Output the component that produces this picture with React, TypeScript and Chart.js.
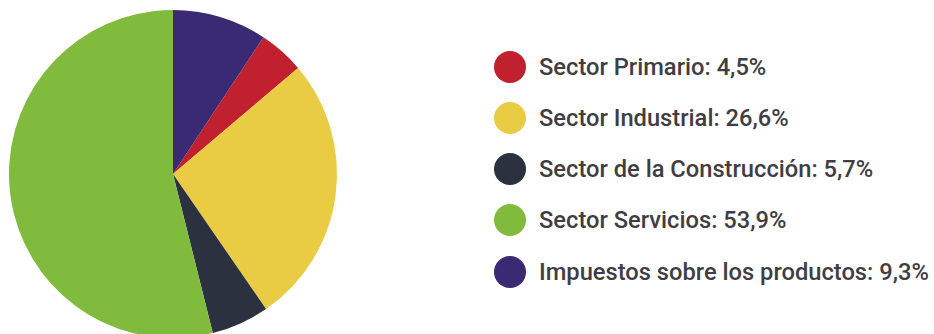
import React, { useEffect, useRef } from "react";
import { Chart, registerables } from "chart.js";

Chart.register(...registerables);

const labels = [
  "Sector Primario",
  "Sector Industrial",
  "Sector de la Construcción",
  "Sector Servicios",
  "Impuestos sobre los productos",
];
const values = [4.5, 26.6, 5.7, 53.9, 9.3];
const valueLabels = ["4,5%", "26,6%", "5,7%", "53,9%", "9,3%"];
const colors = ["#c1212f", "#eacb44", "#2c3140", "#80bb3e", "#3a2a73"];

export default function App() {
  const ref = useRef<HTMLCanvasElement>(null);
  useEffect(() => {
    document.body.style.margin = "0";
    const total = values.reduce((a, b) => a + b, 0);
    const last = values[values.length - 1];
    const chart = new Chart(ref.current!, {
      type: "pie",
      data: {
        labels,
        datasets: [
          {
            data: values,
            backgroundColor: colors,
            borderWidth: 0,
          },
        ],
      },
      options: {
        animation: false,
        responsive: false,
        rotation: (last / total) * 360,
        plugins: { legend: { display: false }, tooltip: { enabled: false } },
        layout: { padding: 0 },
      },
    });
    return () => chart.destroy();
  }, []);

  return (
    <div
      style={{
        position: "fixed",
        left: 0,
        top: 0,
        width: 934,
        height: 334,
        overflow: "hidden",
        background: "#fff",
        fontFamily: "Roboto, 'Noto Sans', sans-serif",
      }}
    >
      <canvas
        ref={ref}
        width={346}
        height={328}
        style={{ position: "absolute", left: 0, top: 10, width: 346, height: 328 }}
      />
      {labels.map((l, i) => (
        <div
          key={l}
          style={{
            position: "absolute",
            left: 494,
            top: 66.7 + i * 51.25 - 16,
            height: 32,
            display: "flex",
            alignItems: "center",
            whiteSpace: "nowrap",
          }}
        >
          <div
            style={{
              width: 32,
              height: 32,
              borderRadius: "50%",
              background: colors[i],
              marginRight: 13,
              flexShrink: 0,
            }}
          />
          <span style={{ fontSize: 23.7, color: "#403d43", fontWeight: 500, lineHeight: "32px" }}>
            {l}: {valueLabels[i]}
          </span>
        </div>
      ))}
    </div>
  );
}
